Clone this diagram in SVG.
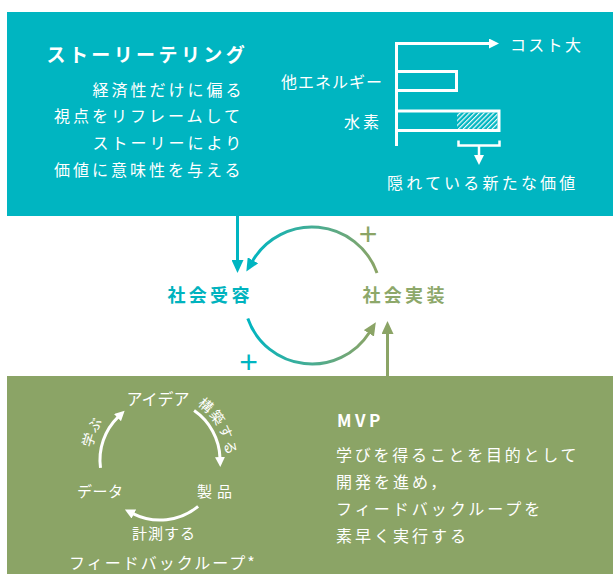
<svg xmlns="http://www.w3.org/2000/svg" width="613" height="574" viewBox="0 0 613 574">
<defs>
<style>
text { font-family: "Noto Sans CJK JP", "Noto Sans", sans-serif; }
.w { fill: #fff; font-size: 16px; letter-spacing: 3px; }
.b { font-weight: 700; }
.ws { stroke: #fff; stroke-width: 3; fill: none; }
.plus { font-family: "Liberation Sans", Arial, sans-serif; font-size: 32px; text-anchor: middle; }
</style>
<linearGradient id="gUp" gradientUnits="userSpaceOnUse" x1="377" y1="0" x2="250" y2="0">
<stop offset="0" stop-color="#8BA466"/><stop offset="1" stop-color="#00B5C1"/>
</linearGradient>
<linearGradient id="gLow" gradientUnits="userSpaceOnUse" x1="248" y1="0" x2="370" y2="0">
<stop offset="0" stop-color="#00B5C1"/><stop offset="1" stop-color="#8BA466"/>
</linearGradient>
<pattern id="hatch" patternUnits="userSpaceOnUse" width="3.4" height="3.4" patternTransform="rotate(45)">
<line x1="0.6" y1="0" x2="0.6" y2="3.4" stroke="#fff" stroke-width="1.1"/>
</pattern>
<marker id="aT" viewBox="0 0 13 12" markerWidth="13" markerHeight="12" refX="1" refY="6" orient="auto" markerUnits="userSpaceOnUse"><path d="M0 0 L13 6 L0 12 Z" fill="#00B5C1"/></marker>
<marker id="aG" viewBox="0 0 13 12" markerWidth="13" markerHeight="12" refX="1" refY="6" orient="auto" markerUnits="userSpaceOnUse"><path d="M0 0 L13 6 L0 12 Z" fill="#8BA466"/></marker>
<marker id="aW" viewBox="0 0 10 10" markerWidth="10" markerHeight="10" refX="1" refY="5" orient="auto" markerUnits="userSpaceOnUse"><path d="M0 0 L10 5 L0 10 Z" fill="#fff"/></marker>
<path id="tp1" d="M 197.1 405 A 66.3 66.3 0 0 1 224 477.2"/>
<path id="tp2" d="M 92.05 448 A 69 69 0 0 1 125.5 400.2"/>
</defs>

<g id="node-storytelling">
<rect x="7" y="12" width="606" height="204" fill="#00B5C1"/>
<text class="w b" x="46.5" y="62" style="font-size:19px;letter-spacing:3.4px">ストーリーテリング</text>
<text class="w" x="92.5" y="96">経済性だけに偏る</text>
<text class="w" x="54" y="122">視点をリフレームして</text>
<text class="w" x="92.5" y="149">ストーリーにより</text>
<text class="w" x="54" y="176">価値に意味性を与える</text>
<g id="chart">
<path class="ws" d="M396.5 146 V43.5 H490" marker-end="url(#aW)"/>
<rect class="ws" x="396.5" y="71.5" width="60" height="19"/>
<rect x="457" y="112.5" width="40.5" height="16.5" fill="url(#hatch)"/>
<rect class="ws" x="396.5" y="111" width="102.5" height="19.5"/>
<path d="M458.5 140.5 V145.5 H499.5 V140.5" fill="none" stroke="#fff" stroke-width="2.5"/>
<line x1="479" y1="145.5" x2="479" y2="156" stroke="#fff" stroke-width="2.5" marker-end="url(#aW)"/>
<text class="w" x="510" y="51" style="letter-spacing:2.3px">コスト大</text>
<text class="w" x="281" y="88" style="letter-spacing:1px">他エネルギー</text>
<text class="w" x="344" y="128">水素</text>
<text class="w" x="387" y="189" style="letter-spacing:3.2px">隠れている新たな価値</text>
</g>
</g>

<g id="node-acceptance">
<text class="b" x="167.5" y="302" style="font-size:18px;letter-spacing:3.3px;fill:#00B3BE">社会受容</text>
</g>

<g id="node-implementation">
<text class="b" x="362.5" y="302" style="font-size:18px;letter-spacing:3.3px;fill:#8DA86A">社会実装</text>
</g>

<g id="node-mvp">
<rect x="7" y="376" width="606" height="198" fill="#8BA466"/>
<text class="w b" x="337" y="427" style="font-size:17px;letter-spacing:3.5px">MVP</text>
<text class="w" x="336" y="461" style="letter-spacing:2.75px">学びを得ることを目的として</text>
<text class="w" x="336" y="488">開発を進め，</text>
<text class="w" x="336" y="515">フィードバックループを</text>
<text class="w" x="336" y="542">素早く実行する</text>
<g id="feedback-loop">
<path class="ws" d="M 194.1 410.6 A 60 60 0 0 1 220 458" marker-end="url(#aW)"/>
<path class="ws" d="M 198.1 506.4 A 60 60 0 0 1 132.9 513.6" marker-end="url(#aW)"/>
<path class="ws" d="M 100.5 467.9 A 60 60 0 0 1 118.2 416.9" marker-end="url(#aW)"/>
<text class="w" x="158" y="405" style="letter-spacing:0;text-anchor:middle">アイデア</text>
<text class="w" x="197" y="497" style="font-size:15px;letter-spacing:5px">製品</text>
<text class="w" x="77" y="497" style="font-size:15px;letter-spacing:0.5px">データ</text>
<text class="w" x="132" y="539" style="font-size:15px;letter-spacing:1px">計測する</text>
<text class="w" style="font-size:14px;letter-spacing:1.4px"><textPath href="#tp1">構築する</textPath></text>
<text class="w" style="font-size:14px;letter-spacing:1px"><textPath href="#tp2">学ぶ</textPath></text>
<text class="w" x="69" y="569" style="letter-spacing:2px">フィードバックループ*</text>
</g>
</g>

<g id="connectors">
<line x1="237.5" y1="216" x2="237.5" y2="261" stroke="#00B5C1" stroke-width="3" marker-end="url(#aT)"/>
<line x1="387.5" y1="376" x2="387.5" y2="333" stroke="#8BA466" stroke-width="3" marker-end="url(#aG)"/>
<path d="M 377 273 A 69 69 0 0 0 252.4 261.2" fill="none" stroke="url(#gUp)" stroke-width="3" marker-end="url(#aT)"/>
<path d="M 247.8 318.5 A 68 68 0 0 0 369.4 332.5" fill="none" stroke="url(#gLow)" stroke-width="3" marker-end="url(#aG)"/>
<text class="plus" x="368" y="244.5" fill="#8BA466">+</text>
<text class="plus" x="248.5" y="373" fill="#00B5C1">+</text>
</g>
</svg>
